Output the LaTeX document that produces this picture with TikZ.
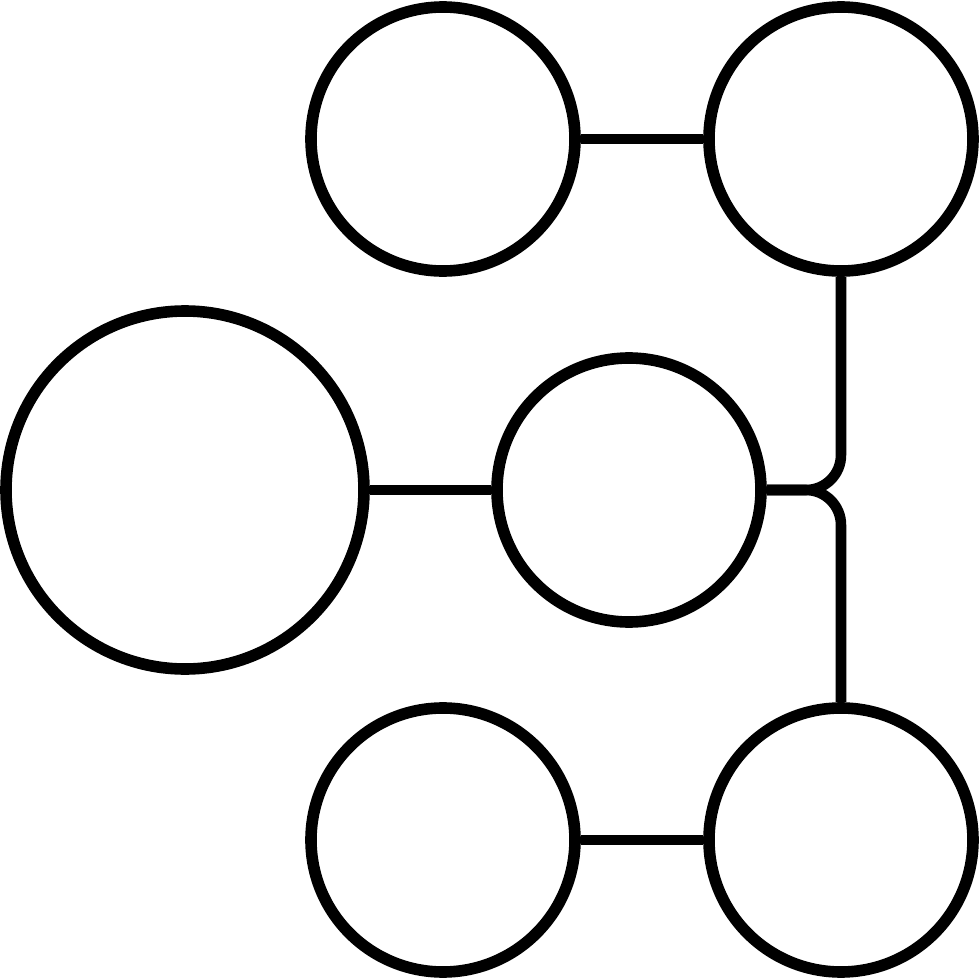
\documentclass[tikz,border=0pt]{standalone}
\usetikzlibrary{positioning}

\begin{document}
\begin{tikzpicture}[dot/.style={circle, draw, line width=3.3pt, inner sep=0pt, minimum size=2.64cm},
    big/.style={dot, minimum size=3.58cm},
    link/.style={line width=3pt}]
    \useasboundingbox (0,0) rectangle (9.8,9.8);
    \node[dot] (tm) at (4.43,8.41) {};
    \node[dot] (tr) at (8.41,8.41) {};
    \node[big] (l) at (1.85,4.90) {};
    \node[dot] (m) at (6.29,4.90) {};
    \node[dot] (bm) at (4.43,1.40) {};
    \node[dot] (br) at (8.41,1.40) {};
    \draw[link] (tm) -- (tr);
    \draw[link] (bm) -- (br);
    \draw[link] (l) -- (m);
    \draw[link, rounded corners=0.35cm] (tr.south) -- (tr.south |- m.east) -- (m.east);
    \draw[link, rounded corners=0.35cm] (br.north) -- (br.north |- m.east) -- (m.east);
  \end{tikzpicture}
\end{document}
